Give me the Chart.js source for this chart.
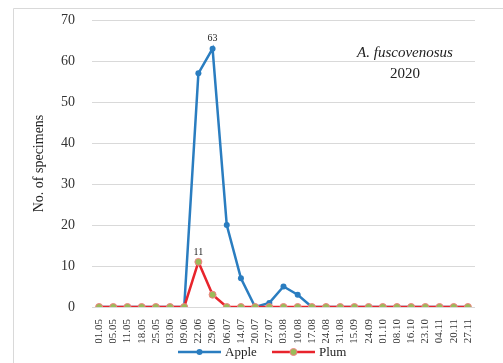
<!DOCTYPE html>
<html>
<head>
<meta charset="utf-8">
<script src="https://cdn.jsdelivr.net/npm/chart.js@4.4.1/dist/chart.umd.min.js"></script>
<style>
  html, body { margin: 0; padding: 0; background: #fff; }
  #wrap { width: 503px; height: 363px; position: relative; }
</style>
</head>
<body>
<div id="wrap"><canvas id="chart" width="503" height="363"></canvas></div>
<script>
// sampling dates
const dates = ["01.05", "05.05", "11.05", "18.05", "25.05", "03.06", "09.06", "22.06", "29.06",
  "06.07", "14.07", "20.07", "27.07", "03.08", "10.08", "17.08", "24.08", "31.08", "15.09",
  "24.09", "01.10", "08.10", "16.10", "23.10", "04.11", "20.11", "27.11"];

const apple = [0, 0, 0, 0, 0, 0, 0, 57, 63, 20, 7, 0, 1, 5, 3, 0, 0, 0, 0, 0, 0, 0, 0, 0, 0, 0, 0];
const plum = [0, 0, 0, 0, 0, 0, 0, 11, 3, 0, 0, 0, 0, 0, 0, 0, 0, 0, 0, 0, 0, 0, 0, 0, 0, 0, 0];

const yTicks = [0, 10, 20, 30, 40, 50, 60, 70];

const blue = "#2a7dc0";
const red = "#e8242c";
const olive = "#9bbb59";
const pink = "#f08080";
const serif = "'Liberation Serif', 'Times New Roman', serif";

const framePlugin = {
  id: "frame",
  beforeDraw(chart) {
    const ctx = chart.ctx;
    ctx.save();
    ctx.strokeStyle = "#d9d9d9";
    ctx.lineWidth = 1;
    ctx.beginPath();
    ctx.moveTo(13.5, 363);
    ctx.lineTo(13.5, 8.5);
    ctx.lineTo(503, 8.5);
    ctx.stroke();
    ctx.restore();
  }
};

const notePlugin = {
  id: "note",
  afterDatasetsDraw(chart) {
    const ctx = chart.ctx;
    ctx.save();
    ctx.fillStyle = "#222";
    ctx.textAlign = "center";
    ctx.textBaseline = "middle";
    ctx.font = "italic 15px " + serif;
    ctx.fillText("A. fuscovenosus", 405, 53);
    ctx.font = "15px " + serif;
    ctx.fillText("2020", 405, 74);

    // value labels at the peak of each series
    ctx.font = "10px " + serif;
    ctx.textBaseline = "bottom";
    chart.data.datasets.forEach((ds, i) => {
      const max = Math.max(...ds.data);
      const idx = ds.data.indexOf(max);
      const pt = chart.getDatasetMeta(i).data[idx];
      ctx.fillText(String(max), pt.x, pt.y - 5);
    });
    ctx.restore();
  }
};

// legend drawn by hand: line with a dot, then the series name
const legendPlugin = {
  id: "lineLegend",
  afterDraw(chart) {
    const ctx = chart.ctx;
    const y = 352;
    const slots = [178, 272];
    ctx.save();
    ctx.font = "13px " + serif;
    ctx.textBaseline = "middle";
    ctx.textAlign = "left";
    chart.data.datasets.forEach((ds, i) => {
      const x0 = slots[i];
      ctx.strokeStyle = ds.borderColor;
      ctx.lineWidth = 2.5;
      ctx.beginPath();
      ctx.moveTo(x0, y);
      ctx.lineTo(x0 + 43, y);
      ctx.stroke();
      ctx.beginPath();
      ctx.arc(x0 + 21.5, y, ds.pointRadius, 0, Math.PI * 2);
      ctx.fillStyle = ds.pointBackgroundColor;
      ctx.fill();
      if (ds.pointBorderWidth) {
        ctx.strokeStyle = ds.pointBorderColor;
        ctx.lineWidth = ds.pointBorderWidth;
        ctx.stroke();
      }
      ctx.fillStyle = "#222";
      ctx.fillText(ds.label, x0 + 47, y + 1);
    });
    ctx.restore();
  }
};

new Chart(document.getElementById("chart"), {
  type: "line",
  data: {
    labels: dates,
    datasets: [
      {
        label: "Apple",
        data: apple,
        borderColor: blue,
        backgroundColor: blue,
        borderWidth: 2.5,
        pointRadius: 3,
        pointBorderWidth: 0,
        pointBackgroundColor: blue,
        tension: 0,
        order: 1
      },
      {
        label: "Plum",
        data: plum,
        borderColor: red,
        backgroundColor: red,
        borderWidth: 2.5,
        pointRadius: 3.5,
        pointBorderWidth: 1,
        pointBorderColor: pink,
        pointBackgroundColor: olive,
        tension: 0,
        order: 0
      }
    ]
  },
  options: {
    responsive: false,
    animation: false,
    layout: { padding: { top: 20, right: 28, left: 0, bottom: 20 } },
    plugins: {
      tooltip: { enabled: false },
      legend: { display: false }
    },
    scales: {
      x: {
        offset: true,
        afterFit(scale) {
          scale.height = 36;
          scale.paddingTop = 0;
          scale.paddingBottom = 0;
        },
        grid: { display: false },
        border: { display: false },
        ticks: {
          minRotation: 90,
          maxRotation: 90,
          autoSkip: false,
          padding: 4,
          color: "#333",
          font: { family: serif, size: 11 }
        }
      },
      y: {
        min: 0,
        max: 70,
        afterFit(scale) {
          scale.width = 92;
          scale.paddingTop = 0;
          scale.paddingBottom = 0;
        },
        afterBuildTicks(scale) { scale.ticks = yTicks.map(v => ({ value: v })); },
        grid: { color: "#d9d9d9", lineWidth: 1, drawTicks: false },
        border: { display: false },
        ticks: {
          padding: 17,
          color: "#333",
          font: { family: serif, size: 14 }
        },
        title: {
          display: true,
          text: "No. of specimens",
          color: "#222",
          font: { family: serif, size: 14 },
          padding: { top: 31, bottom: 0 }
        }
      }
    }
  },
  plugins: [framePlugin, notePlugin, legendPlugin]
});
</script>
</body>
</html>
